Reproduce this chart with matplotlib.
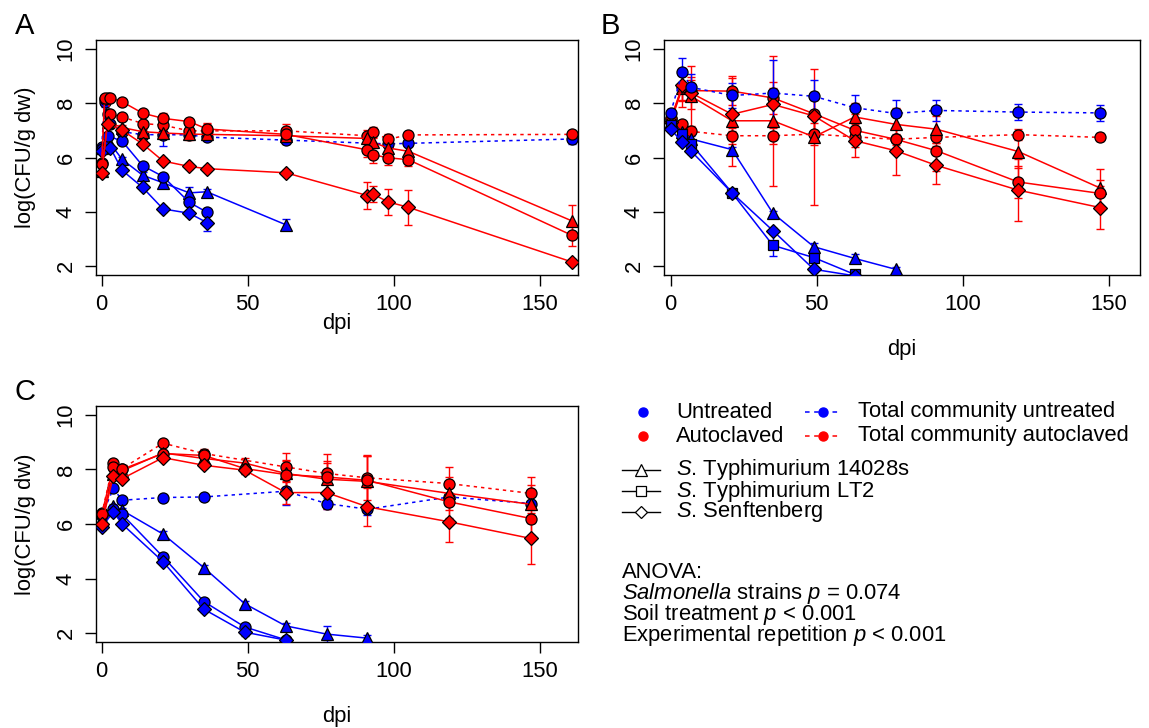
import numpy as np
import matplotlib
matplotlib.use("Agg")
import matplotlib.pyplot as plt

plt.rcParams['font.family'] = ['Liberation Sans', 'DejaVu Sans']
plt.rcParams['mathtext.fontset'] = 'custom'
plt.rcParams['mathtext.rm'] = 'Liberation Sans'
plt.rcParams['mathtext.it'] = 'Liberation Sans:italic'

BLUE = '#0000FF'
RED = '#FF0000'

# ---------------- Panel A ----------------
A_un_tri_t = [0, 2, 7, 14, 21, 30, 36, 63]
A_un_tri_v = [6.35, 6.65, 5.93, 5.35, 5.07, 4.70, 4.74, 3.53]
A_un_tri_e = [0.1, 0.1, 0.1, 0.1, 0.12, 0.2, 0.1, 0.2]
A_un_circ_t = [0, 2, 7, 14, 21, 30, 36]
A_un_circ_v = [6.3, 6.8, 6.6, 5.7, 5.3, 4.35, 3.99]
A_un_circ_e = [0.1, 0.6, 0.1, 0.1, 0.1, 0.15, 0.1]
A_un_dia_t = [0, 3, 7, 14, 21, 30, 36]
A_un_dia_v = [6.25, 6.35, 5.53, 4.9, 4.11, 3.95, 3.61]
A_un_dia_e = [0.1, 0.1, 0.1, 0.1, 0.1, 0.1, 0.3]
A_un_tot_t = [0, 1, 2, 3, 7, 14, 21, 30, 36, 63, 98, 105, 161]
A_un_tot_v = [6.4, 8.05, 7.6, 7.25, 6.95, 6.84, 6.84, 6.83, 6.75, 6.64, 6.5, 6.52, 6.68]
A_un_tot_e = [0.1, 0.2, 0.1, 0.1, 0.1, 0.1, 0.4, 0.1, 0.1, 0.15, 0.1, 0.1, 0.2]

A_au_tri_t = [0, 2, 7, 14, 21, 30, 36, 63, 91, 93, 98, 105, 161]
A_au_tri_v = [5.5, 7.3, 7.1, 6.95, 6.9, 6.86, 6.85, 6.8, 6.7, 6.56, 6.35, 6.23, 3.67]
A_au_tri_e = [0.1, 0.2, 0.1, 0.1, 0.1, 0.2, 0.1, 0.1, 0.2, 0.2, 0.2, 0.2, 0.6]
A_au_circ_t = [0, 1, 3, 7, 14, 21, 30, 36, 63, 91, 93, 98, 105, 161]
A_au_circ_v = [5.75, 8.2, 8.19, 8.05, 7.63, 7.44, 7.32, 7.05, 6.85, 6.28, 6.1, 5.99, 5.92, 3.14]
A_au_circ_e = [0.1, 0.1, 0.1, 0.1, 0.1, 0.2, 0.1, 0.2, 0.1, 0.25, 0.3, 0.25, 0.25, 0.4]
A_au_dia_t = [0, 2, 7, 14, 21, 30, 36, 63, 91, 93, 98, 105, 161]
A_au_dia_v = [5.43, 7.25, 7.0, 6.5, 5.87, 5.67, 5.59, 5.44, 4.6, 4.65, 4.37, 4.17, 2.16]
A_au_dia_e = [0.1, 0.1, 0.1, 0.1, 0.1, 0.1, 0.1, 0.1, 0.5, 0.3, 0.48, 0.64, 0.1]
A_au_tot_t = [0, 1, 2, 3, 7, 14, 21, 30, 36, 63, 91, 93, 98, 105, 161]
A_au_tot_v = [5.8, 8.15, 8.2, 7.6, 7.49, 7.25, 7.19, 6.98, 6.98, 6.98, 6.8, 6.92, 6.67, 6.83, 6.85]
A_au_tot_e = [0.1, 0.1, 0.1, 0.1, 0.1, 0.1, 0.2, 0.3, 0.3, 0.27, 0.2, 0.2, 0.2, 0.1, 0.1]

# ---------------- Panel B ----------------
B_t = [0, 4, 7, 21, 35, 49, 63, 77, 91, 119, 147]
B_un_tri_v = [7.3, 6.92, 6.68, 6.29, 3.95, 2.72, 2.29, 1.89]
B_un_tri_e = [0.1, 0.1, 0.1, 0.1, 0.1, 0.15, 0.15, 0.1]
B_un_sq_v = [7.2, 6.86, 6.5, 4.7, 2.77, 2.32, 1.7]
B_un_sq_e = [0.1, 0.1, 0.1, 0.1, 0.4, 0.1, 0.1]
B_un_dia_v = [7.04, 6.56, 6.23, 4.7, 3.31, 1.89, 1.65]
B_un_dia_e = [0.1, 0.1, 0.1, 0.1, 0.1, 0.1, 0.1]
B_un_tot_v = [7.65, 9.14, 8.58, 8.28, 8.37, 8.25, 7.83, 7.62, 7.73, 7.67, 7.64]
B_un_tot_e = [0.15, 0.5, 0.5, 0.45, 1.2, 0.6, 0.45, 0.5, 0.4, 0.28, 0.3]

B_au_tri_v = [7.3, 8.56, 8.25, 7.35, 7.35, 6.76, 7.49, 7.22, 7.04, 6.22, 4.88]
B_au_tri_e = [0.1, 0.7, 1.1, 1.65, 2.4, 2.5, 0.5, 0.6, 0.5, 0.6, 0.7]
B_au_circ_v = [7.45, 8.6, 8.46, 8.44, 8.19, 7.61, 7.0, 6.67, 6.25, 5.1, 4.68]
B_au_circ_e = [0.1, 0.5, 0.4, 0.5, 0.6, 0.8, 0.6, 0.5, 0.75, 0.6, 0.5]
B_au_dia_v = [7.3, 8.68, 8.37, 7.59, 7.95, 7.53, 6.62, 6.25, 5.71, 4.8, 4.16]
B_au_dia_e = [0.1, 0.6, 0.6, 0.6, 0.6, 0.6, 0.6, 0.9, 0.7, 1.15, 0.8]
B_au_tot_v = [7.41, 7.22, 6.96, 6.8, 6.8, 6.86, 6.76, 6.67, 6.74, 6.84, 6.74]
B_au_tot_e = [0.1, 0.1, 0.1, 0.3, 0.3, 0.4, 0.2, 0.2, 0.2, 0.2, 0.15]

# ---------------- Panel C ----------------
C_t = [0, 4, 7, 21, 35, 49, 63, 77, 91, 119, 147]
C_tot_t = [0, 4, 7, 21, 35, 63, 77, 91, 119, 147]
C_un_tri_v = [6.2, 6.65, 6.5, 5.63, 4.4, 3.08, 2.27, 1.97, 1.82]
C_un_tri_e = [0.1, 0.1, 0.1, 0.1, 0.1, 0.1, 0.1, 0.3, 0.1]
C_un_circ_v = [6.39, 6.55, 6.35, 4.8, 3.16, 2.23, 1.76]
C_un_circ_e = [0.1, 0.1, 0.1, 0.1, 0.1, 0.1, 0.1]
C_un_dia_v = [5.88, 6.45, 6.0, 4.62, 2.88, 2.04, 1.75]
C_un_dia_e = [0.1, 0.1, 0.1, 0.1, 0.1, 0.15, 0.1]
C_un_tot_v = [6.3, 7.3, 6.87, 6.97, 6.99, 7.2, 6.75, 6.54, 6.99, 6.75]
C_un_tot_e = [0.1, 0.1, 0.1, 0.1, 0.1, 0.5, 0.2, 0.2, 0.1, 0.1]

C_au_tri_v = [6.2, 7.82, 7.95, 8.6, 8.4, 8.23, 7.85, 7.64, 7.56, 7.12, 6.72]
C_au_tri_e = [0.1, 0.1, 0.1, 0.1, 0.15, 0.2, 0.5, 0.6, 0.95, 0.6, 0.7]
C_au_circ_v = [6.35, 8.09, 8.0, 8.58, 8.51, 8.03, 7.81, 7.72, 7.6, 6.81, 6.2]
C_au_circ_e = [0.1, 0.1, 0.1, 0.1, 0.1, 0.2, 0.5, 0.6, 0.9, 0.6, 0.6]
C_au_dia_v = [6.0, 7.75, 7.66, 8.43, 8.15, 7.97, 7.15, 7.15, 6.63, 6.08, 5.47]
C_au_dia_e = [0.1, 0.1, 0.1, 0.1, 0.1, 0.15, 0.4, 0.6, 0.7, 0.73, 0.95]
C_au_tot_v = [6.35, 8.23, 8.03, 8.96, 8.58, 8.09, 7.85, 7.69, 7.48, 7.12]
C_au_tot_e = [0.1, 0.1, 0.1, 0.1, 0.15, 0.5, 0.7, 0.8, 0.6, 0.6]

X_TICKS = [0, 50, 100, 150]
Y_TICKS = [2, 4, 6, 8, 10]
FS = 15.8
MS = {'o': 8.0, '^': 9.3, 'D': 6.8, 's': 7.4}


def series(ax, t, v, e, color, marker, ls='-'):
    n = len(v)
    t = t[:n]
    ax.errorbar(t, v, yerr=e, fmt='none', ecolor=color, elinewidth=1.0,
                capsize=3, capthick=1.0, zorder=2)
    if ls == ':':
        linestyle = (0, (2.2, 2.6))
    else:
        linestyle = '-'
    ax.plot(t, v, color=color, ls=linestyle, lw=1.1, marker=marker,
            ms=MS[marker], mfc=color, mec='black', mew=0.9, zorder=3)


def style(ax, xlim, xlabelpad, ylabel=True):
    ax.set_xlim(*xlim)
    ax.set_ylim(1.68, 10.32)
    ax.set_xticks(X_TICKS)
    ax.set_yticks(Y_TICKS)
    ax.set_yticklabels([str(v) for v in Y_TICKS], rotation=90, va='center')
    ax.tick_params(direction='out', length=8, width=1, labelsize=FS, pad=6)
    ax.tick_params(axis='y', pad=6)
    for s in ax.spines.values():
        s.set_linewidth(1.0)
    ax.set_xlabel('dpi', fontsize=FS, labelpad=xlabelpad)
    if ylabel:
        ax.set_ylabel('log(CFU/g dw)', fontsize=FS, labelpad=14)


fig = plt.figure(figsize=(11.49, 7.28), dpi=100)
W, H = 1149.0, 728.0


def px_axes(x0, y0, x1, y1):
    return fig.add_axes([x0 / W, 1 - y1 / H, (x1 - x0) / W, (y1 - y0) / H])


axA = px_axes(96, 40, 578, 275)
axB = px_axes(664, 40, 1140, 275)
axC = px_axes(96, 406, 578, 642)

# Panel A
series(axA, A_un_tot_t, A_un_tot_v, A_un_tot_e, BLUE, 'o', ':')
series(axA, A_un_tri_t, A_un_tri_v, A_un_tri_e, BLUE, '^')
series(axA, A_un_circ_t, A_un_circ_v, A_un_circ_e, BLUE, 'o')
series(axA, A_un_dia_t, A_un_dia_v, A_un_dia_e, BLUE, 'D')
series(axA, A_au_tot_t, A_au_tot_v, A_au_tot_e, RED, 'o', ':')
series(axA, A_au_tri_t, A_au_tri_v, A_au_tri_e, RED, '^')
series(axA, A_au_circ_t, A_au_circ_v, A_au_circ_e, RED, 'o')
series(axA, A_au_dia_t, A_au_dia_v, A_au_dia_e, RED, 'D')
style(axA, (-1.95, 163.1), -2)

# Panel B
series(axB, B_t, B_au_tot_v, B_au_tot_e, RED, 'o', ':')
series(axB, B_t, B_au_tri_v, B_au_tri_e, RED, '^')
series(axB, B_t, B_au_circ_v, B_au_circ_e, RED, 'o')
series(axB, B_t, B_au_dia_v, B_au_dia_e, RED, 'D')
series(axB, B_t, B_un_tri_v, B_un_tri_e, BLUE, '^')
series(axB, B_t, B_un_sq_v, B_un_sq_e, BLUE, 's')
series(axB, B_t, B_un_dia_v, B_un_dia_e, BLUE, 'D')
series(axB, B_t, B_un_tot_v, B_un_tot_e, BLUE, 'o', ':')
style(axB, (-2.3, 160.7), 17, ylabel=False)

# Panel C
series(axC, C_tot_t, C_un_tot_v, C_un_tot_e, BLUE, 'o', ':')
series(axC, C_t, C_un_tri_v, C_un_tri_e, BLUE, '^')
series(axC, C_t, C_un_circ_v, C_un_circ_e, BLUE, 'o')
series(axC, C_t, C_un_dia_v, C_un_dia_e, BLUE, 'D')
series(axC, C_tot_t, C_au_tot_v, C_au_tot_e, RED, 'o', ':')
series(axC, C_t, C_au_tri_v, C_au_tri_e, RED, '^')
series(axC, C_t, C_au_circ_v, C_au_circ_e, RED, 'o')
series(axC, C_t, C_au_dia_v, C_au_dia_e, RED, 'D')
style(axC, (-1.95, 163.1), 17)

# Panel letters
fig.text(15 / W, 1 - 34 / H, 'A', fontsize=21, va='baseline', ha='left')
fig.text(601 / W, 1 - 34 / H, 'B', fontsize=21, va='baseline', ha='left')
fig.text(15 / W, 1 - 400 / H, 'C', fontsize=21, va='baseline', ha='left')

# Legend overlay (pixel coordinates)
lg = fig.add_axes([0, 0, 1, 1], facecolor='none')
lg.set_xlim(0, W)
lg.set_ylim(H, 0)
lg.axis('off')

leg_rows = [412, 436]
lg.plot([643], [leg_rows[0]], 'o', color=BLUE, ms=6.5)
lg.plot([643], [leg_rows[1]], 'o', color=RED, ms=6.5)
lg.text(676, leg_rows[0], 'Untreated', fontsize=FS, va='center', ha='left')
lg.text(676, leg_rows[1], 'Autoclaved', fontsize=FS, va='center', ha='left')
for y, c in zip(leg_rows, [BLUE, RED]):
    lg.plot([805, 841], [y, y], color=c, lw=1.1, ls=(0, (3, 3)))
    lg.plot([823], [y], 'o', color=c, ms=6.5)
lg.text(858, leg_rows[0], 'Total community untreated', fontsize=FS, va='center', ha='left')
lg.text(858, leg_rows[1], 'Total community autoclaved', fontsize=FS, va='center', ha='left')

strain_rows = [470, 491, 512]
strain_markers = ['^', 's', 'D']
strain_names = [r'$\mathit{S}$. Typhimurium 14028s',
                r'$\mathit{S}$. Typhimurium LT2',
                r'$\mathit{S}$. Senftenberg']
for y, m, name in zip(strain_rows, strain_markers, strain_names):
    lg.plot([622, 660], [y, y], color='black', lw=1.0)
    lg.plot([641], [y], marker=m, ms=MS[m] * 0.95, mfc='white', mec='black', mew=0.9)
    lg.text(676, y, name, fontsize=FS, va='center', ha='left')

anova = ['ANOVA:',
         r'$\mathit{Salmonella}$ strains $\mathit{p}$ = 0.074',
         r'Soil treatment $\mathit{p}$ < 0.001',
         r'Experimental repetition $\mathit{p}$ < 0.001']
for i, line in enumerate(anova):
    lg.text(622, 573 + i * 20.7, line, fontsize=FS, va='center', ha='left')

fig.savefig('out.png', dpi=100)
